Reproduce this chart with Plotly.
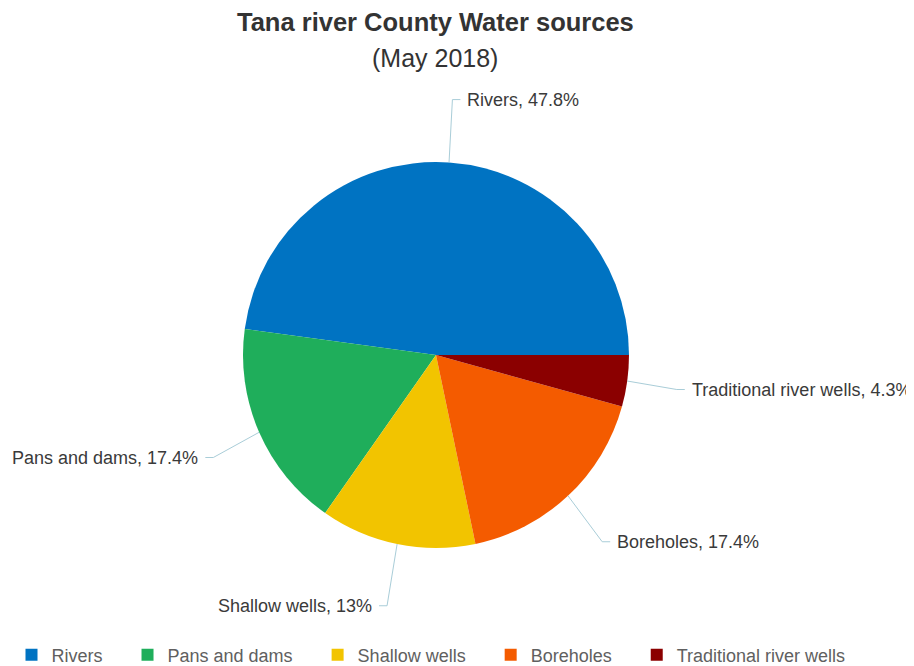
import math
import plotly.graph_objects as go

# ---- data ----
categories = ["Rivers", "Pans and dams", "Shallow wells", "Boreholes", "Traditional river wells"]
values = [47.8, 17.4, 13, 17.4, 4.3]
value_labels = ["47.8%", "17.4%", "13%", "17.4%", "4.3%"]
colors = ["#0073c2", "#1fae5b", "#f2c400", "#f45b00", "#8b0000"]

OFF = 8                      # page body margin
W, H = 914 - OFF, 666 - OFF  # figure size that fits in the window
CX, CY, R = 436, 355, 193    # pie centre and radius in window pixels
RX_LABEL, RY_LABEL = 243, 256
HSEG = 8
GAP = 5
FONT = "Liberation Sans, Arial, Helvetica, sans-serif"

def px(x):
    return (x - OFF) / W

def py(y):
    return (H - (y - OFF)) / H

total = sum(values)
# first slice runs counter-clockwise from 3 o'clock
rotation = 90 - values[0] / total * 360

legend_names = [c + "\u00a0" * 4 for c in categories]

fig = go.Figure()
fig.add_trace(go.Pie(
    labels=legend_names,
    values=values,
    sort=False,
    direction="counterclockwise",
    rotation=rotation,
    marker=dict(colors=colors, line=dict(width=0)),
    textinfo="none",
    customdata=categories,
    hovertemplate="%{customdata}: %{value}%<extra></extra>",
    domain=dict(x=[px(CX - R), px(CX + R)], y=[py(CY + R), py(CY - R)]),
    showlegend=True,
))

# connector lines and labels computed from the slice angles
cum = 0.0
shapes = []
annotations = []
for cat, v, lab in zip(categories, values, value_labels):
    mid = (cum + v / 2) / total * 2 * math.pi
    cum += v
    c, s = math.cos(mid), math.sin(mid)
    x0, y0 = CX + R * c, CY - R * s
    x1, y1 = CX + RX_LABEL * c, CY - RY_LABEL * s
    side = 1 if c >= 0 else -1
    x2 = x1 + side * HSEG
    path = f"M {px(x0)},{py(y0)} L {px(x1)},{py(y1)} L {px(x2)},{py(y1)}"
    shapes.append(dict(type="path", path=path, xref="paper", yref="paper",
                       line=dict(color="#a9cdd8", width=1)))
    annotations.append(dict(
        x=px(x2 + side * GAP), y=py(y1), xref="paper", yref="paper",
        text=f"{cat}, {lab}", showarrow=False,
        xanchor="left" if side > 0 else "right", yanchor="middle",
        font=dict(size=18, color="#3a3a3a", family=FONT),
    ))

# title
annotations.append(dict(x=px(435), y=py(22), xref="paper", yref="paper",
                        text="<b>Tana river County Water sources</b>", showarrow=False,
                        xanchor="center", yanchor="middle",
                        font=dict(size=25.5, color="#333333", family=FONT)))
annotations.append(dict(x=px(435), y=py(58), xref="paper", yref="paper",
                        text="(May 2018)", showarrow=False,
                        xanchor="center", yanchor="middle",
                        font=dict(size=25, color="#333333", family=FONT)))

fig.update_layout(
    width=W, height=H,
    margin=dict(l=0, r=0, t=0, b=0, autoexpand=False),
    paper_bgcolor="white",
    plot_bgcolor="white",
    shapes=shapes,
    annotations=annotations,
    legend=dict(orientation="h", x=px(441), xanchor="center", y=py(655), yanchor="middle",
                font=dict(size=18, color="#606060", family=FONT),
                itemwidth=30),
)

fig.write_html("out.html")
